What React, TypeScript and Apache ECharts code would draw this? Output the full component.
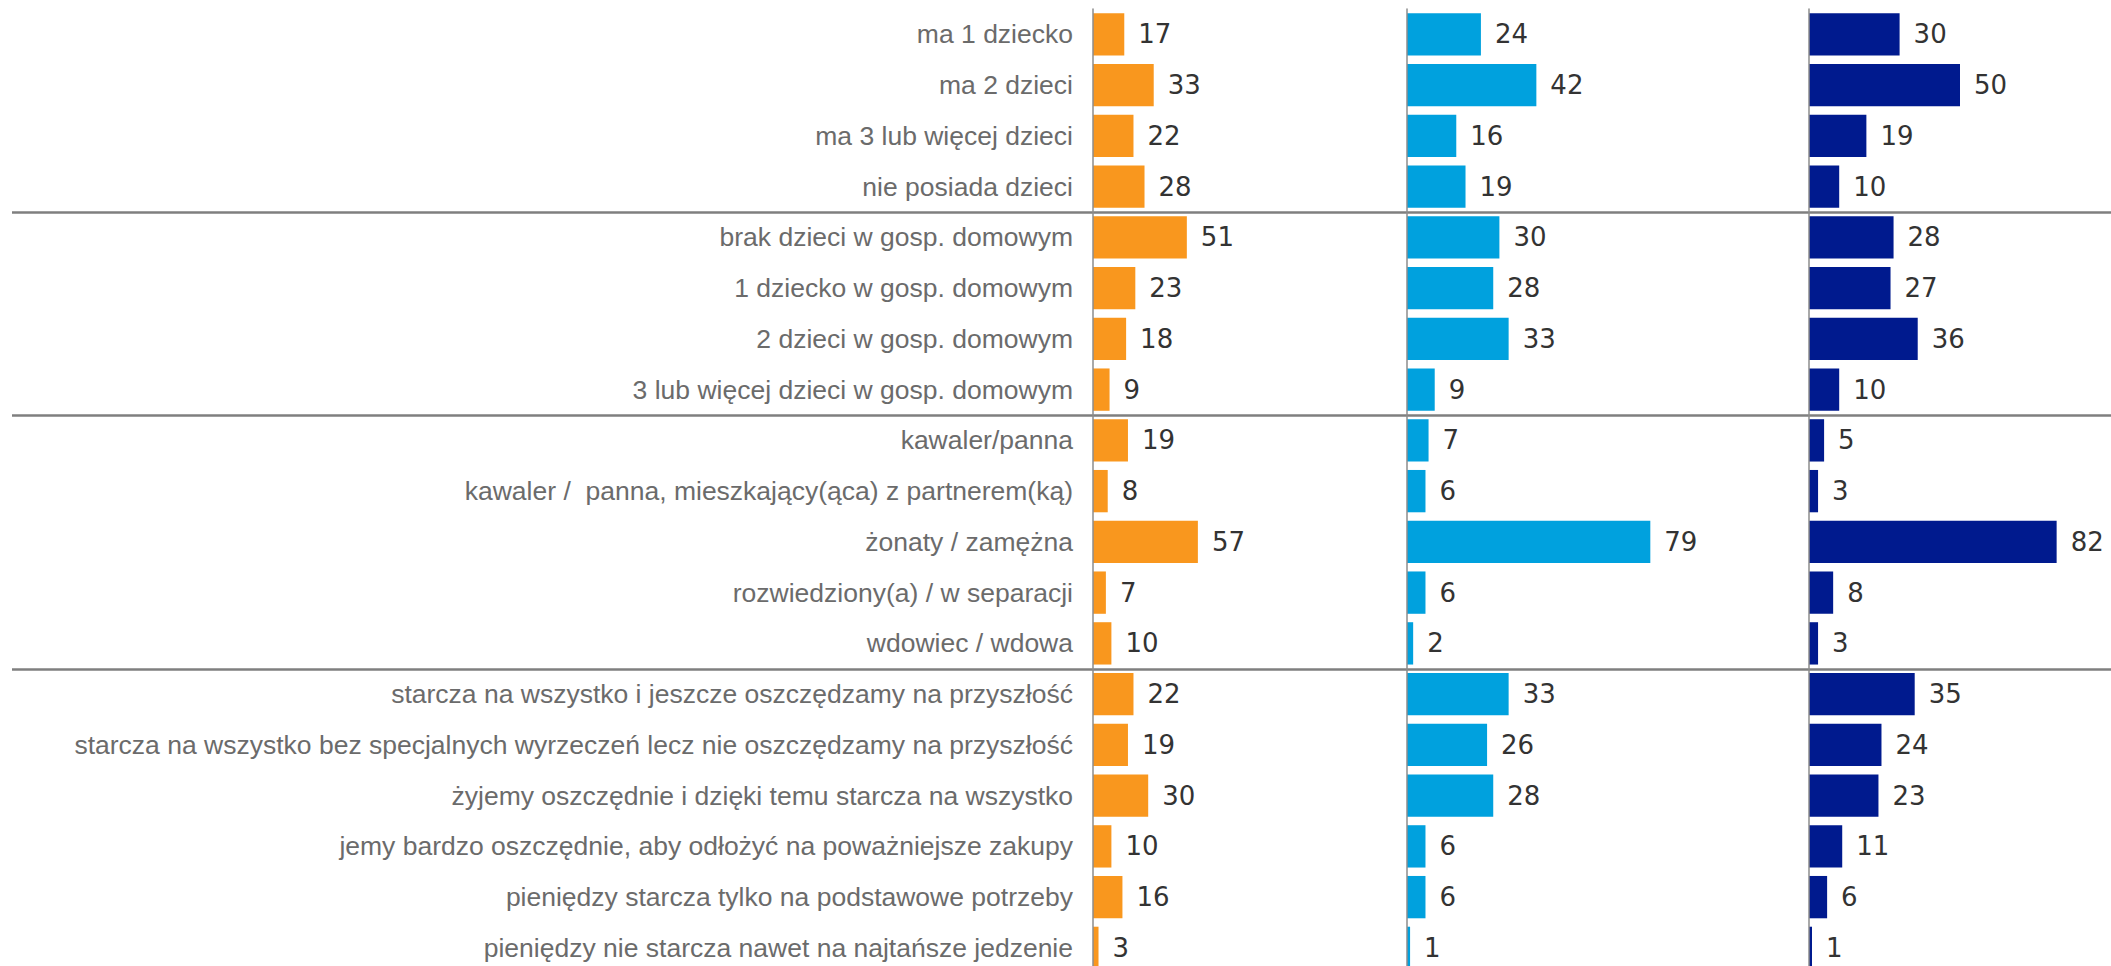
import React, { useEffect, useRef } from "react";
import * as echarts from "echarts";

const categories: string[] = [
  "ma 1 dziecko",
  "ma 2 dzieci",
  "ma 3 lub więcej dzieci",
  "nie posiada dzieci",
  "brak dzieci w gosp. domowym",
  "1 dziecko w gosp. domowym",
  "2 dzieci w gosp. domowym",
  "3 lub więcej dzieci w gosp. domowym",
  "kawaler/panna",
  "kawaler /  panna, mieszkający(ąca) z partnerem(ką)",
  "żonaty / zamężna",
  "rozwiedziony(a) / w separacji",
  "wdowiec / wdowa",
  "starcza na wszystko i jeszcze oszczędzamy na przyszłość",
  "starcza na wszystko bez specjalnych wyrzeczeń lecz nie oszczędzamy na przyszłość",
  "żyjemy oszczędnie i dzięki temu starcza na wszystko",
  "jemy bardzo oszczędnie, aby odłożyć na poważniejsze zakupy",
  "pieniędzy starcza tylko na podstawowe potrzeby",
  "pieniędzy nie starcza nawet na najtańsze jedzenie",
];

const orangeValues: number[] = [17, 33, 22, 28, 51, 23, 18, 9, 19, 8, 57, 7, 10, 22, 19, 30, 10, 16, 3];
const blueValues: number[] = [24, 42, 16, 19, 30, 28, 33, 9, 7, 6, 79, 6, 2, 33, 26, 28, 6, 6, 1];
const navyValues: number[] = [30, 50, 19, 10, 28, 27, 36, 10, 5, 3, 82, 8, 3, 35, 24, 23, 11, 6, 1];

// category indices where a group separator line starts
const groupStarts: number[] = [4, 8, 13];

const colors = ["#F9971E", "#00A1DE", "#001A8E"];

export default function App() {
  const ref = useRef<HTMLDivElement>(null);

  useEffect(() => {
    if (!ref.current) return;
    const chart = echarts.init(ref.current, undefined, { renderer: "svg" });
    const top = 9;
    const height = 19 * 50.75;
    const panels = [
      { left: 1093, width: 184, values: orangeValues },
      { left: 1407, width: 308, values: blueValues },
      { left: 1809, width: 307, values: navyValues },
    ];
    const grids: any[] = panels.map((p) => ({ left: p.left, width: p.width, top, height }));
    grids.push({ left: 12, width: 2200, top, height });

    const xAxes: any[] = grids.map((_, i) => ({
      type: "value",
      gridIndex: i,
      min: 0,
      max: 100,
      show: false,
    }));

    const yAxes: any[] = panels.map((_, i) => ({
      type: "category",
      gridIndex: i,
      inverse: true,
      data: categories,
      axisLine: { show: true, lineStyle: { color: "#8c8c8c", width: 1.5 } },
      axisTick: { show: false },
      splitLine: { show: false },
      axisLabel:
        i === 0
          ? {
              show: true,
              color: "#6b6b6b",
              fontSize: 26.5,
              fontFamily: "'Liberation Sans', Arial, sans-serif",
              margin: 20,
            }
          : { show: false },
      z: 5,
    }));
    yAxes.push({
      type: "category",
      gridIndex: 3,
      inverse: true,
      data: categories,
      axisLine: { show: false },
      axisTick: { show: false },
      axisLabel: { show: false },
      splitLine: {
        show: true,
        interval: (index: number) => groupStarts.indexOf(index) >= 0,
        lineStyle: { color: "#7f7f7f", width: 2.5 },
      },
    });

    const series: any[] = panels.map((p, i) => ({
      type: "bar",
      xAxisIndex: i,
      yAxisIndex: i,
      data: p.values,
      barCategoryGap: "16.6%",
      itemStyle: { color: colors[i] },
      label: {
        show: true,
        position: "right",
        distance: 14,
        color: "#333333",
        fontSize: 26,
        fontFamily: "'DejaVu Sans', Verdana, sans-serif",
      },
      z: 3,
    }));

    chart.setOption({
      animation: false,
      backgroundColor: "#ffffff",
      grid: grids,
      xAxis: xAxes,
      yAxis: yAxes,
      series,
    });
    return () => chart.dispose();
  }, []);

  return (
    <div
      ref={ref}
      style={{ position: "fixed", left: 0, top: 0, width: 2111, height: 1010 }}
    />
  );
}
